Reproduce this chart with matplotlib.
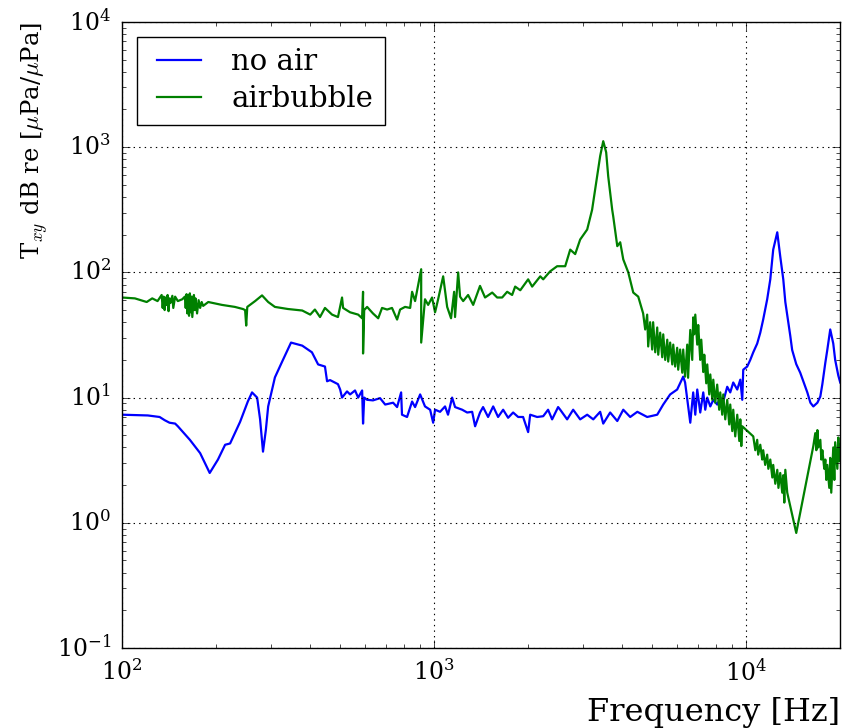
import matplotlib
matplotlib.use('Agg')
import matplotlib.pyplot as plt

# transfer functions
freq_noair = [100, 121, 132, 137, 142, 148, 151, 165, 178, 191, 203, 214, 222, 239, 253,
              261, 271, 277, 283, 289, 294, 309, 326, 348, 378, 406, 425, 447, 454, 464,
              492, 500, 507, 526, 538, 558, 571, 588, 592, 597, 610, 637, 671, 697, 739,
              761, 784, 789, 819, 850, 869, 902, 935, 971, 993, 1007, 1045, 1084, 1108, 1142,
              1167, 1230, 1276, 1324, 1353, 1403, 1435, 1489, 1546, 1603, 1664, 1726, 1791, 1859, 1928,
              2001, 2031, 2138, 2236, 2318, 2388, 2496, 2535, 2668, 2789, 2937, 3093, 3235, 3404, 3482,
              3664, 3862, 4036, 4248, 4477, 4815, 5185, 5420, 5704, 6007, 6281, 6369, 6617, 6761, 6866,
              6966, 7122, 7282, 7390, 7500, 7670, 7841, 8070, 8255, 8440, 8690, 8886, 9085, 9357, 9570,
              9710, 9780, 10070, 10300, 10530, 10840, 11090, 11330, 11670, 11940, 12200, 12570, 12850, 13140, 13340,
              13840, 14030, 14460, 14890, 15690, 16050, 16400, 16900, 17270, 17530, 17920, 18180, 18580, 19000, 19270,
              19720, 20000]
txy_noair = [7.3, 7.2, 7.0, 6.6, 6.3, 6.2, 5.9, 4.6, 3.6, 2.5, 3.2, 4.2, 4.3, 6.4, 9.3,
             11.0, 10.0, 6.7, 3.7, 5.5, 8.5, 14.5, 19.4, 27.5, 26.0, 23.0, 18.4, 17.7, 13.5, 13.8,
             12.8, 11.6, 10.0, 11.2, 10.6, 11.4, 10.0, 11.4, 6.2, 10.0, 9.6, 9.5, 9.9, 8.8, 9.1,
             8.4, 11.0, 7.3, 7.0, 9.3, 8.4, 10.6, 8.5, 8.0, 6.3, 8.0, 7.7, 8.5, 7.3, 10.0,
             8.4, 8.0, 7.6, 7.7, 5.9, 7.6, 8.4, 7.0, 8.5, 7.0, 8.0, 6.9, 7.6, 7.0, 7.0,
             5.3, 7.3, 7.0, 7.1, 8.0, 6.7, 8.4, 8.0, 6.7, 8.0, 6.7, 7.3, 6.7, 7.7, 6.2,
             7.6, 6.5, 8.0, 7.0, 7.7, 7.0, 7.3, 8.8, 10.6, 11.6, 14.7, 13.2, 6.3, 11.0, 7.3,
             11.6, 7.6, 11.0, 8.0, 10.0, 8.5, 9.6, 8.8, 10.0, 9.3, 12.2, 11.0, 13.2, 11.6, 13.9,
             9.6, 16.7, 17.7, 20.0, 23.0, 27.0, 33.0, 42.0, 61.0, 88.0, 152.0, 209.0, 134.0, 88.0, 58.0,
             31.0, 24.0, 18.5, 15.8, 11.0, 9.1, 8.5, 9.1, 10.2, 12.8, 19.0, 24.0, 35.0, 27.0, 20.0,
             15.0, 13.2]

freq_bubble = [100, 110, 120, 125, 130, 134, 135, 136, 137, 138, 139, 140, 141, 142, 143,
               145, 146, 148, 151, 156, 159, 160, 161, 162, 163, 164, 165, 166, 167, 168,
               170, 171, 172, 174, 176, 178, 180, 182, 189, 209, 230, 244, 248, 250, 252,
               267, 281, 294, 309, 340, 378, 401, 415, 431, 447, 471, 492, 507, 511, 538,
               571, 588, 592, 592, 597, 610, 637, 662, 681, 707, 733, 761, 778, 807, 838,
               850, 869, 909, 909, 935, 957, 985, 1007, 1030, 1069, 1101, 1133, 1159, 1167, 1194,
               1211, 1239, 1285, 1334, 1403, 1456, 1535, 1592, 1652, 1714, 1778, 1818, 1888, 2001, 2061,
               2188, 2236, 2354, 2478, 2630, 2729, 2831, 2937, 3093, 3207, 3327, 3404, 3482, 3558, 3612,
               3720, 3748, 3862, 3946, 4036, 4188, 4345, 4508, 4674, 4745, 4815, 4851, 4920, 4996, 5031,
               5110, 5185, 5224, 5299, 5380, 5420, 5500, 5583, 5623, 5704, 5794, 5836, 5919, 6007, 6053,
               6140, 6237, 6281, 6369, 6470, 6511, 6617, 6713, 6761, 6810, 6866, 6966, 7016, 7122, 7176,
               7282, 7336, 7444, 7500, 7610, 7670, 7784, 7841, 7956, 8070, 8190, 8255, 8375, 8440, 8565,
               8690, 8820, 8886, 9020, 9085, 9220, 9357, 9500, 9570, 9640, 9710, 10530, 10690, 10840, 10920,
               11090, 11250, 11330, 11500, 11670, 11770, 11940, 12120, 12200, 12390, 12570, 12680, 12850, 13040, 13140,
               13240, 13340, 13530, 14460, 16400, 16640, 16770, 16900, 17020, 17270, 17400, 17530, 17780, 17920, 18050,
               18180, 18450, 18580, 18720, 19000, 19150, 19270, 19580, 19720, 19860, 20000]
txy_bubble = [63, 62, 58, 62, 59, 66, 52, 64, 50, 63, 55, 66, 49, 62, 57,
              65, 52, 64, 59, 61, 64, 52, 67, 47, 66, 45, 68, 48, 64, 44,
              66, 50, 62, 47, 60, 52, 58, 54, 58, 55, 53, 51, 50, 37.6, 53,
              59, 65.5, 58, 53, 51, 49.6, 46, 50.5, 44, 52, 46, 44, 63, 52, 48,
              46, 43, 70, 22.5, 50, 53, 47, 43, 52, 50.5, 52, 42, 50.5, 53, 52,
              70, 59, 106, 27.5, 61, 55, 63, 48, 61, 93, 53, 43, 70, 44, 100,
              64, 59, 66, 55, 78, 63, 69, 63, 63, 70, 66, 77, 72, 88, 77,
              93, 88, 102, 112, 112, 152, 140, 183, 220, 316, 585, 850, 1117, 910, 585,
              316, 280, 162, 174, 127, 100, 69, 64, 47, 35, 46, 25.6, 40, 24.2, 40,
              23, 36.3, 22, 33, 21, 32, 20, 29, 19.4, 27.5, 18.4, 26.5, 17.7, 25, 16.7,
              24.2, 15.8, 24.2, 14.7, 26.5, 14.4, 34.7, 20, 43.7, 32, 46, 26.5, 38, 20, 29,
              16, 22, 13, 18.4, 10.6, 15.3, 9.6, 13.9, 9.1, 12.7, 8.0, 11, 7.3, 10.6, 6.7,
              9.6, 6.1, 8.8, 5.4, 8.0, 4.9, 7.3, 4.5, 6.7, 4.1, 5.9, 4.9, 3.8, 4.6, 3.5,
              4.2, 3.2, 3.8, 2.9, 3.5, 2.7, 3.2, 2.3, 2.9, 2.05, 2.65, 1.9, 2.5, 1.74, 2.4,
              1.45, 2.65, 1.74, 0.83, 4.1, 5.2, 3.8, 5.5, 4.0, 4.6, 3.2, 3.8, 2.7, 3.2, 2.2,
              2.9, 1.9, 3.3, 1.74, 4.0, 2.2, 4.4, 2.7, 4.8, 3.1, 4.2]

plt.style.use('classic')
plt.rcParams['font.family'] = 'serif'
plt.rcParams['font.serif'] = ['DejaVu Serif']
plt.rcParams['mathtext.fontset'] = 'cm'
plt.rc('xtick', labelsize=17)
plt.rc('ytick', labelsize=17)
plt.rc('legend', fontsize=21)

fig = plt.figure(figsize=(8.43, 7.28), dpi=100, facecolor='white')
ax = fig.add_axes([0.1447, 0.1099, 0.852, 0.8599])

ax.plot(freq_noair, txy_noair, color='b', lw=1.6, label='no air')
ax.plot(freq_bubble, txy_bubble, color='g', lw=1.6, label='airbubble')

ax.set_xscale('log')
ax.set_yscale('log')
ax.set_xlim(100, 20000)
ax.set_ylim(0.1, 1e4)
ax.grid(True, which='major', color='k', linestyle=':', linewidth=0.8)
ax.tick_params(which='major', length=6, direction='in', top=True, right=True, pad=8)
ax.tick_params(which='minor', length=3, direction='in', top=True, right=True)

ax.set_xlabel('Frequency [Hz]', loc='right', fontsize=23)
ax.set_ylabel(r'T$_{xy}$ dB re [$\mu$Pa/$\mu$Pa]', loc='top', fontsize=17.5)
ax.xaxis.set_label_coords(1.0, -0.078)
ax.yaxis.set_label_coords(-0.1, 1.0)

leg = ax.legend(loc='upper left', fancybox=False, handlelength=2.1, handletextpad=0.75,
                borderpad=0.4, labelspacing=0.3)
leg.get_frame().set_edgecolor('k')

fig.savefig('out.png', dpi=100, facecolor='white')
